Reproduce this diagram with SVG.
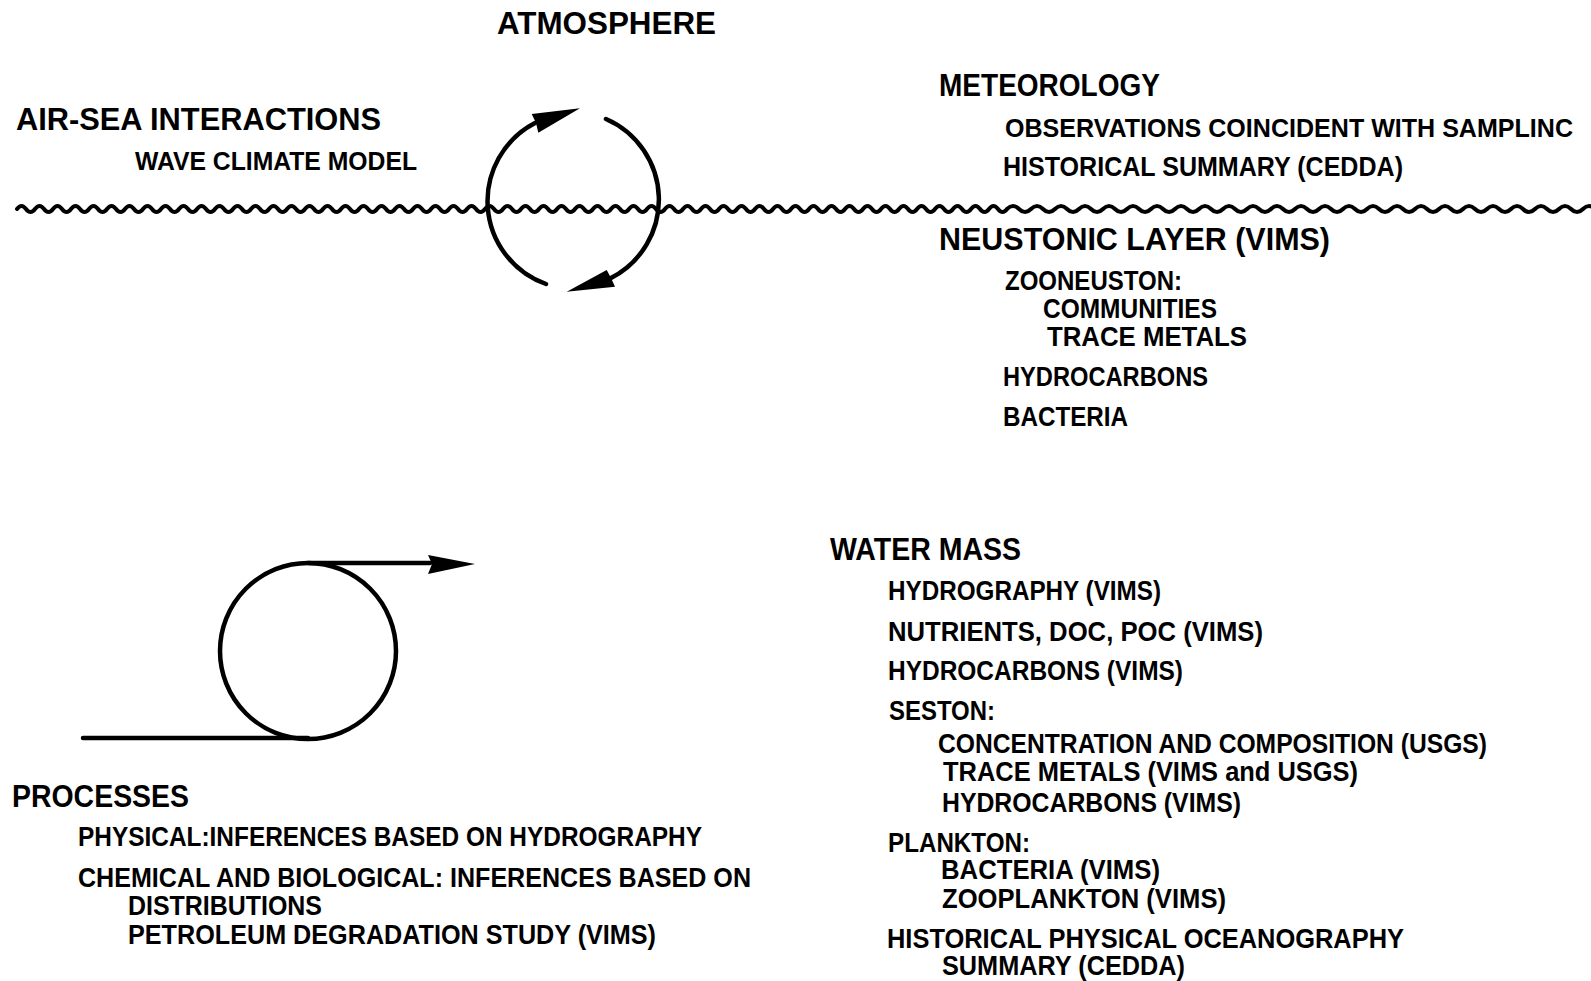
<svg xmlns="http://www.w3.org/2000/svg" width="1591" height="981" viewBox="0 0 1591 981">
<style>
text{font-family:"Liberation Sans",Arial,sans-serif;font-weight:bold;fill:#000}
.h{font-size:31px}
.s{font-size:27px}
.w{font-size:25px}
.ln{fill:none;stroke:#000;stroke-width:4.5;stroke-linecap:round}
.wave{fill:none;stroke:#000;stroke-width:4;stroke-linecap:round;stroke-linejoin:round}
.head{fill:#000}
</style>
<rect width="1591" height="981" fill="#fff"/>
<g id="connectors">
<path class="wave" d="M17,209 q4.5,-6 9,0 t9,0 t9,0 t9,0 t9,0 t9,0 t9,0 t9,0 t9,0 t9,0 t9,0 t9,0 t9,0 t9,0 t9,0 t9,0 t9,0 t9,0 t9,0 t9,0 t9,0 t9,0 t9,0 t9,0 t9,0 t9,0 t9,0 t9,0 t9,0 t9,0 t9,0 t9,0 t9,0 t9,0 t9,0 t9,0 t9,0 t9,0 t9,0 t9,0 t9,0 t9,0 t9,0 t9,0 t9,0 t9,0 t9,0 t9,0 t9,0 t9,0 t9,0 t9,0 t9,0 t9,0 t9,0 t9,0 t9,0 t9,0 t9,0 t9,0 t9,0 t9,0 t9,0 t9,0 t9,0 t9,0 t9,0 t9,0 t9,0 t9,0 t9,0 t9,0 t9,0 t9,0 t9,0 t9,0 t9,0 t9,0 t9,0 t9,0 t9,0 t9,0 t9,0 t9,0 t9,0 t9,0 t9,0 t9,0 t9,0 t9,0 t9,0 t9,0 t9,0 t9,0 t9,0 t9,0 t9,0 t9,0 t9,0 t9,0 t9,0 t9,0 t9,0 t9,0 t9,0 t9,0 t9,0 t9,0 t9,0 t9,0 q6,-6 12,0 t12,0 t12,0 t12,0 t12,0 t12,0 t12,0 t12,0 t12,0 t12,0 t12,0 t12,0 t12,0 t12,0 t12,0 t12,0 t12,0 t12,0 t12,0 t12,0 t12,0 t12,0 t12,0 t12,0 t12,0 t12,0 t12,0 t12,0 t12,0 t12,0 t12,0 t12,0 t12,0 t12,0 t12,0 t12,0 t12,0 t12,0 t12,0 t12,0 t12,0 t12,0 t12,0 t12,0 t12,0 t12,0 t12,0 t12,0 t12,0 t12,0"/>
<path class="ln" d="M546,284 A88,88 0 0 1 535,123"/>
<polygon class="head" points="531.7,114 580,108.3 538.3,132.7 536,123"/>
<path class="ln" d="M606,119 A88,88 0 0 1 611,278"/>
<polygon class="head" points="606.7,270 566.7,291.7 615,286.7 611,278"/>
<circle class="ln" cx="308" cy="651" r="88"/>
<path class="ln" d="M308,563 H430"/>
<polygon class="head" points="428,555 475,564 428,574 432,564"/>
<path class="ln" d="M83,738 H308"/>
</g>
<g id="atmosphere">
<text class="h" x="497" y="34" textLength="219" lengthAdjust="spacingAndGlyphs">ATMOSPHERE</text>
</g>
<g id="meteorology">
<text class="h" x="939" y="96" textLength="221" lengthAdjust="spacingAndGlyphs">METEOROLOGY</text>
<text x="1005" y="137" font-size="25" textLength="568" lengthAdjust="spacingAndGlyphs">OBSERVATIONS COINCIDENT WITH SAMPLINC</text>
<text class="s" x="1003" y="176" textLength="400" lengthAdjust="spacingAndGlyphs">HISTORICAL SUMMARY (CEDDA)</text>
</g>
<g id="air-sea">
<text class="h" x="16" y="130" textLength="365" lengthAdjust="spacingAndGlyphs">AIR-SEA INTERACTIONS</text>
<text class="w" x="135" y="170" textLength="282" lengthAdjust="spacingAndGlyphs">WAVE CLIMATE MODEL</text>
</g>
<g id="neustonic">
<text class="h" x="939" y="250" textLength="391" lengthAdjust="spacingAndGlyphs">NEUSTONIC LAYER (VIMS)</text>
<text class="s" x="1005" y="290" textLength="177" lengthAdjust="spacingAndGlyphs">ZOONEUSTON:</text>
<text class="s" x="1043" y="318" textLength="174" lengthAdjust="spacingAndGlyphs">COMMUNITIES</text>
<text class="s" x="1047" y="346" textLength="200" lengthAdjust="spacingAndGlyphs">TRACE METALS</text>
<text class="s" x="1003" y="386" textLength="205" lengthAdjust="spacingAndGlyphs">HYDROCARBONS</text>
<text class="s" x="1003" y="426" textLength="125" lengthAdjust="spacingAndGlyphs">BACTERIA</text>
</g>
<g id="water-mass">
<text class="h" x="830" y="560" textLength="191" lengthAdjust="spacingAndGlyphs">WATER MASS</text>
<text class="s" x="888" y="600" textLength="273" lengthAdjust="spacingAndGlyphs">HYDROGRAPHY (VIMS)</text>
<text class="s" x="888" y="641" textLength="375" lengthAdjust="spacingAndGlyphs">NUTRIENTS, DOC, POC (VIMS)</text>
<text class="s" x="888" y="680" textLength="295" lengthAdjust="spacingAndGlyphs">HYDROCARBONS (VIMS)</text>
<text class="s" x="889" y="720" textLength="106" lengthAdjust="spacingAndGlyphs">SESTON:</text>
<text class="s" x="938" y="753" textLength="549" lengthAdjust="spacingAndGlyphs">CONCENTRATION AND COMPOSITION (USGS)</text>
<text class="s" x="943" y="781" textLength="415" lengthAdjust="spacingAndGlyphs">TRACE METALS (VIMS and USGS)</text>
<text class="s" x="942" y="812" textLength="299" lengthAdjust="spacingAndGlyphs">HYDROCARBONS (VIMS)</text>
<text class="s" x="888" y="852" textLength="142" lengthAdjust="spacingAndGlyphs">PLANKTON:</text>
<text class="s" x="941" y="879" textLength="219" lengthAdjust="spacingAndGlyphs">BACTERIA (VIMS)</text>
<text class="s" x="942" y="908" textLength="284" lengthAdjust="spacingAndGlyphs">ZOOPLANKTON (VIMS)</text>
<text class="s" x="887" y="948" textLength="517" lengthAdjust="spacingAndGlyphs">HISTORICAL PHYSICAL OCEANOGRAPHY</text>
<text class="s" x="942" y="975" textLength="243" lengthAdjust="spacingAndGlyphs">SUMMARY (CEDDA)</text>
</g>
<g id="processes">
<text class="h" x="12" y="807" textLength="177" lengthAdjust="spacingAndGlyphs">PROCESSES</text>
<text class="s" x="78" y="846" textLength="624" lengthAdjust="spacingAndGlyphs">PHYSICAL:INFERENCES BASED ON HYDROGRAPHY</text>
<text class="s" x="78" y="887" textLength="673" lengthAdjust="spacingAndGlyphs">CHEMICAL AND BIOLOGICAL: INFERENCES BASED ON</text>
<text class="s" x="128" y="915" textLength="194" lengthAdjust="spacingAndGlyphs">DISTRIBUTIONS</text>
<text class="s" x="128" y="944" textLength="528" lengthAdjust="spacingAndGlyphs">PETROLEUM DEGRADATION STUDY (VIMS)</text>
</g>
</svg>
